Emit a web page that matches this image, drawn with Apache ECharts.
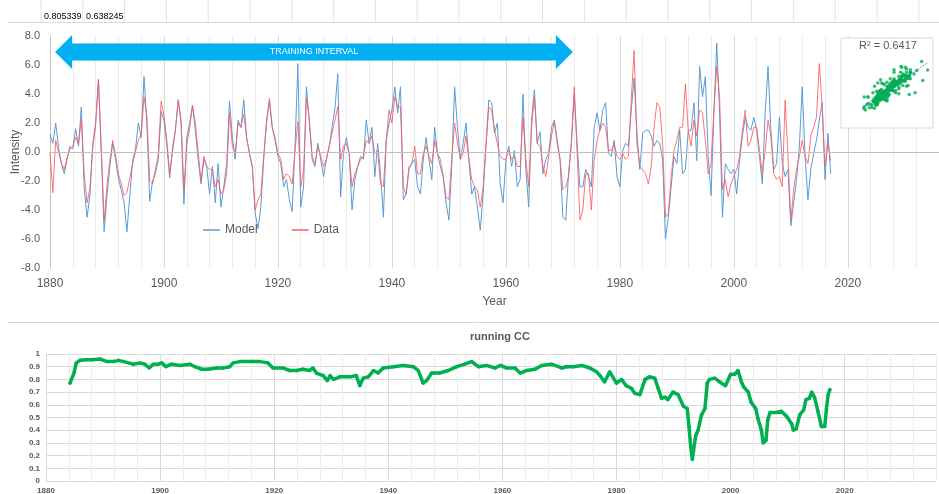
<!DOCTYPE html>
<html>
<head>
<meta charset="utf-8">
<script src="https://cdn.jsdelivr.net/npm/echarts@6/dist/echarts.min.js"></script>
<style>
  html, body { margin: 0; padding: 0; background: #fff; }
  #main { width: 939px; height: 494px; }
</style>
</head>
<body>
<div id="main"></div>
<script>
// half-year samples starting at 1880.0
const startYear = 1880;
const stepYears = 0.5;

const modelValues = [
  1.2, 0.6, 2.0, 0.3, -0.8, -1.5, -0.5, 0.4, 0.2, 1.6,
  0.4, 3.1, -2.5, -4.5, -3.0, 0.5, 2.0, 5.0, 0.0, -5.5,
  -3.0, -1.0, 0.6, -0.5, -1.8, -2.6, -3.5, -5.5, -3.0, -0.6,
  0.2, 2.0, 1.0, 5.2, 2.0, -3.4, -2.0, -1.5, -0.5, 2.8,
  2.2, 0.5, -1.8, 0.3, 1.5, 3.6, 2.0, -3.6, 1.0, 2.0,
  3.2, 1.5, -0.5, -2.2, -0.5, -1.0, -2.9, -1.0, -3.5, -0.8,
  -3.8, -2.4, -0.8, 3.5, 1.0, -0.5, 2.2, 1.7, 3.6, 1.0,
  -0.1, -1.0, -4.2, -5.3, -3.8, -0.5, 2.2, 3.5, 1.7, 0.8,
  -0.3, -0.8, -2.4, -1.9, -3.3, -4.1, 0.4, 6.1, -3.8, -2.4,
  4.5, 2.2, -0.5, -1.0, 0.6, -0.5, -1.7, -0.5, 0.4, 1.7,
  3.0, 5.4, -3.1, -0.1, 1.0, -0.1, -4.0, -1.9, -1.0, -0.3,
  -0.5, 2.2, 0.6, 1.7, -1.7, 0.6, -1.5, -4.5, 0.8, 2.0,
  2.9, 4.5, 2.7, 4.5, -3.3, -2.9, -1.0, -0.8, -0.5, -2.4,
  -2.9, -0.5, 1.0, -0.5, -1.9, 1.7, -0.1, -1.0, -1.7, -3.5,
  -4.7, -1.0, 4.5, 1.7, -0.5, 0.6, 2.0, -0.5, -2.9, -2.4,
  -3.8, -5.4, -2.9, 0.4, 3.6, 3.4, 1.3, 2.0, -2.2, -3.5,
  -0.5, 0.4, -1.0, 0.1, -2.4, -1.9, 4.0, -1.2, -3.8, 2.2,
  4.3, 0.6, 1.4, -1.5, -0.5, -0.1, 1.7, 2.2, 0.8, -0.5,
  -4.5, -4.7, -1.5, 0.6, 4.0, 0.6, -2.4, -2.4, -1.2, -1.7,
  -2.4, 1.7, 2.7, 1.5, 2.9, 3.4, -0.1, -0.3, 0.8, -1.7,
  -2.4, 0.1, 0.6, 0.4, 2.9, 5.1, 1.3, -1.2, 1.3, 1.5,
  1.5, 1.1, 0.4, 0.8, 0.6, -0.5, -6.0, -4.5, -2.4, -0.3,
  -0.8, 1.5, -1.5, -1.2, 1.5, 1.5, 3.4, -0.6, 5.9, 3.8,
  5.2, -0.3, -3.0, 2.7, 7.5, 2.7, -4.5, -0.8, -1.2, -1.5,
  -1.2, -2.9, -0.6, 1.1, 2.4, 1.7, 1.5, 2.4, 1.5, -0.3,
  -2.2, 2.7, 5.9, 1.5, -1.2, -0.8, 2.4, -0.8, -1.7, -1.2,
  -5.1, -3.5, -1.9, 0.4, 4.5, -0.3, -3.3, -1.2, -0.1, 0.8,
  2.2, 3.4, -1.9, 1.3, -1.5
];

const dataValues = [
  0.0, -2.8, 0.8, 0.0, -0.8, -1.2, -0.4, 0.2, 0.4, 1.0,
  0.6, 2.2, -1.5, -3.5, -2.5, 0.3, 1.8, 5.0, 0.2, -4.8,
  -2.3, -0.6, 0.8, -0.2, -1.5, -2.2, -3.0, -2.8, -1.8, -0.8,
  0.0, 0.8, 1.2, 3.8, 2.5, -2.0, -2.2, -1.2, -0.2, 3.5,
  2.5, 0.8, -1.5, 0.0, 1.5, 3.6, 2.2, -2.6, 0.5, 1.6,
  3.2, 2.0, 0.0, -2.0, -0.3, -1.0, -1.2, -1.2, -2.4, -1.9,
  -2.9, -2.6, -1.5, 2.7, 0.4, -0.1, 2.0, 1.7, 2.6, 1.0,
  -0.1, -1.0, -4.0, -3.3, -2.9, -0.3, 2.0, 3.7, 1.7, 1.0,
  -0.1, -0.5, -1.9, -1.5, -1.7, -2.2, 0.1, 2.1, -2.4, -1.2,
  3.8, 2.2, -0.3, -0.8, 0.4, -0.3, -1.0, -0.5, 0.4, 1.3,
  2.2, 3.1, -0.5, 0.4, 0.6, -0.1, -2.4, -1.5, -1.0, -0.5,
  -0.3, 0.8, 0.6, 1.1, -0.1, 0.1, -2.2, -2.4, 0.8, 2.9,
  2.0, 3.8, 3.1, 3.1, -2.4, -2.9, -1.2, -0.8, 0.4, -1.5,
  -1.5, -0.1, 0.4, -0.3, -0.8, 0.8, -0.1, -0.5, -1.7, -3.1,
  -3.3, -0.5, 2.0, 0.6, -0.5, -0.1, 1.1, -0.5, -1.9, -2.4,
  -2.6, -3.8, -2.4, 0.4, 3.1, 2.9, 1.5, 0.6, -0.3, -0.5,
  -0.5, 0.1, -0.5, -0.3, -1.0, -1.0, 2.4, -0.5, -2.4, 1.7,
  3.8, 0.6, 0.4, -1.0, -1.7, -0.3, 1.1, 2.1, 0.6, -0.5,
  -2.6, -2.4, -1.7, 0.8, 4.5, -0.1, -4.7, -4.0, -1.5, -1.5,
  -4.0, -0.5, 0.8, 1.5, 2.0, 1.7, 0.1, 0.1, 0.6, -0.3,
  -0.5, -0.1, -0.5, -0.3, 3.6, 7.0, 0.6, -1.0, -1.2, -1.5,
  -2.2, -1.0, 1.7, 3.4, 3.1, 0.6, -4.5, -4.2, -1.7, 0.1,
  0.8, 1.7, 1.7, 4.7, 1.5, 0.4, 2.2, 1.1, 2.9, 2.7,
  0.8, -1.5, -0.8, 2.9, 5.9, 3.8, -2.6, -1.9, -3.1, -2.2,
  -1.7, -1.2, -0.3, 1.5, 2.9, 0.4, 0.8, 1.7, 1.7, 0.1,
  -1.5, 0.1, 2.2, 1.1, -1.5, -1.9, -1.7, -2.4, 3.6, -0.3,
  -4.7, -2.6, -1.2, -0.3, 0.8, -0.3, -0.8, 1.1, 1.7, 2.4,
  6.1, 3.1, -1.0, 0.6, -0.6
];

// running correlation coefficient
const ccYears = [
  1884.2, 1884.9, 1885.3, 1886.0, 1887.0, 1888.0, 1889.5, 1890.7, 1891.8, 1892.7,
  1893.6, 1895.3, 1896.5, 1897.3, 1898.1, 1898.8, 1899.7, 1900.3, 1901.0, 1902.0,
  1903.5, 1905.2, 1906.1, 1907.3, 1908.4, 1909.9, 1911.0, 1912.2, 1912.8, 1914.0,
  1915.7, 1917.5, 1918.9, 1919.8, 1921.5, 1922.7, 1923.9, 1925.0, 1926.2, 1926.8,
  1927.4, 1928.6, 1929.3, 1929.8, 1930.4, 1931.5, 1933.3, 1934.4, 1935.0, 1935.6,
  1936.5, 1937.4, 1938.2, 1939.1, 1940.9, 1942.6, 1944.4, 1945.25, 1946.1, 1946.7,
  1947.6, 1949.0, 1950.5, 1952.0, 1953.4, 1954.6, 1955.8, 1957.2, 1958.7, 1959.7,
  1960.7, 1962.2, 1963.1, 1964.2, 1965.7, 1966.9, 1968.6, 1970.4, 1971.2, 1972.4,
  1973.9, 1975.3, 1976.5, 1977.1, 1977.9, 1978.8, 1980.0, 1980.9, 1981.7, 1982.6,
  1983.2, 1984.1, 1985.0, 1985.8, 1986.7, 1987.3, 1987.9, 1988.5, 1989.0, 1989.9,
  1990.8, 1991.7, 1992.4, 1992.7, 1993.0, 1993.3, 1993.5, 1993.9, 1994.3, 1994.9,
  1995.5, 1995.9, 1996.3, 1997.2, 1998.1, 1999.1, 2000.0, 2000.7, 2001.3, 2001.9,
  2002.3, 2003.1, 2003.6, 2004.4, 2004.8, 2005.4, 2005.7, 2006.2, 2006.5, 2006.9,
  2008.0, 2008.9, 2009.8, 2010.7, 2011.0, 2011.5, 2012.1, 2012.8, 2013.2, 2013.8,
  2014.2, 2014.7, 2015.3, 2015.9, 2016.5, 2016.8, 2017.1, 2017.4
];
const ccValues = [
  0.77, 0.85, 0.93, 0.95, 0.955, 0.955, 0.96, 0.94, 0.94, 0.95,
  0.94, 0.92, 0.93, 0.92, 0.89, 0.92, 0.92, 0.93, 0.90, 0.92,
  0.91, 0.92, 0.90, 0.88, 0.88, 0.89, 0.89, 0.90, 0.93, 0.94,
  0.94, 0.94, 0.93, 0.89, 0.89, 0.87, 0.87, 0.88, 0.87, 0.89,
  0.85, 0.83, 0.79, 0.83, 0.80, 0.82, 0.82, 0.83, 0.75, 0.81,
  0.82, 0.87, 0.85, 0.89, 0.90, 0.91, 0.90, 0.87, 0.77, 0.79,
  0.85, 0.85, 0.87, 0.90, 0.92, 0.94, 0.90, 0.91, 0.89, 0.91,
  0.89, 0.89, 0.85, 0.87, 0.88, 0.91, 0.92, 0.89, 0.90, 0.90,
  0.91, 0.89, 0.86, 0.83, 0.78, 0.86, 0.77, 0.80, 0.75, 0.73,
  0.69, 0.68, 0.80, 0.82, 0.81, 0.73, 0.65, 0.66, 0.64, 0.70,
  0.68, 0.59, 0.57, 0.43, 0.27, 0.17, 0.24, 0.36, 0.40, 0.52,
  0.57, 0.77, 0.80, 0.81, 0.78, 0.75, 0.84, 0.84, 0.87, 0.78,
  0.74, 0.70, 0.62, 0.57, 0.49, 0.40, 0.30, 0.32, 0.48, 0.54,
  0.54, 0.55, 0.51, 0.45, 0.40, 0.41, 0.52, 0.56, 0.64, 0.65,
  0.70, 0.66, 0.55, 0.43, 0.43, 0.57, 0.68, 0.72
];

const stripValues = ['0.805339', '0.638245'];
const r2Label = 'R\u00B2 = 0.6417';
const trainingLabel = 'TRAINING INTERVAL';
const trainingStart = 1880.9;
const trainingEnd = 1971.75;

const years = modelValues.map((_, i) => startYear + i * stepYears);

const grey = '#595959';
const blue = '#5B9BD5';
const red = '#FF5A5F';
const green = '#00B050';

// linear fit for the scatter inset
const mean = a => a.reduce((s, v) => s + v, 0) / a.length;
const mx = mean(dataValues), my = mean(modelValues);
let sxy = 0, sxx = 0;
dataValues.forEach((x, i) => { sxy += (x - mx) * (modelValues[i] - my); sxx += (x - mx) * (x - mx); });
const slope = sxy / sxx;
const icpt = my - slope * mx;
const xLo = Math.min(...dataValues), xHi = Math.max(...dataValues);

const chart = echarts.init(document.getElementById('main'));

const yearLabel = v => (v % 20 === 0 ? String(v) : '');
const gridColors = ['#D9D9D9', '#EDEDED', '#EDEDED', '#EDEDED', '#EDEDED'];

chart.setOption({
  animation: false,
  textStyle: { fontFamily: 'Liberation Sans' },
  grid: [
    { left: 50, top: 36, right: 0, height: 232, outerBoundsMode: 'none' },
    { left: 841, top: 38, width: 92, height: 90, show: true, backgroundColor: '#fff', borderColor: '#D9D9D9', z: 1, outerBoundsMode: 'none' },
    { left: 46, top: 354, right: 3, height: 127, outerBoundsMode: 'none' }
  ],
  legend: {
    data: ['Model', 'Data'],
    left: 198, top: 219,
    icon: 'rect', itemWidth: 17, itemHeight: 1.5, itemGap: 34,
    textStyle: { color: grey, fontSize: 12 }
  },
  xAxis: [
    {
      type: 'value', gridIndex: 0, min: 1880, max: 2036, interval: 4,
      axisLine: { show: false }, axisTick: { show: false },
      axisLabel: { formatter: yearLabel, color: grey, fontSize: 12, margin: 10 },
      splitLine: { show: true, lineStyle: { color: gridColors } },
      name: 'Year', nameLocation: 'middle', nameGap: 28, nameMoveOverlap: false,
      nameTextStyle: { color: grey, fontSize: 12 }
    },
    { type: 'value', gridIndex: 1, min: -9, max: 8, show: false },
    {
      type: 'value', gridIndex: 2, min: 1880, max: 2036, interval: 4,
      axisLine: { show: true, lineStyle: { color: '#D9D9D9' } }, axisTick: { show: false },
      axisLabel: { formatter: yearLabel, color: grey, fontSize: 8, fontWeight: 'bold', margin: 6 },
      splitLine: { show: true, lineStyle: { color: gridColors } }
    }
  ],
  yAxis: [
    {
      type: 'value', gridIndex: 0, min: -8, max: 8, interval: 2,
      axisLine: { show: true, lineStyle: { color: '#BFBFBF' } }, axisTick: { show: false },
      splitLine: { show: false },
      axisLabel: { formatter: v => v.toFixed(1), color: grey, fontSize: 11, margin: 10 },
      name: 'Intensity', nameLocation: 'middle', nameGap: 28, nameRotate: 90, nameMoveOverlap: false,
      nameTextStyle: { color: grey, fontSize: 12 }
    },
    { type: 'value', gridIndex: 1, min: -11, max: 14, show: false },
    {
      type: 'value', gridIndex: 2, min: 0, max: 1, interval: 0.1,
      axisLine: { show: false }, axisTick: { show: false },
      splitLine: { show: true, lineStyle: { color: '#D9D9D9' } },
      axisLabel: { formatter: v => String(+v.toFixed(1)), color: grey, fontSize: 8, fontWeight: 'bold', margin: 6 }
    }
  ],
  series: [
    {
      name: 'Model', type: 'line', xAxisIndex: 0, yAxisIndex: 0,
      data: years.map((y, i) => [y, modelValues[i]]),
      showSymbol: false, color: blue, lineStyle: { width: 1, color: blue },
      markLine: {
        silent: true, symbol: 'none', label: { show: false },
        lineStyle: { color: '#BFBFBF', type: 'solid', width: 1 },
        data: [{ yAxis: 0 }]
      }
    },
    {
      name: 'Data', type: 'line', xAxisIndex: 0, yAxisIndex: 0,
      data: years.map((y, i) => [y, dataValues[i]]),
      showSymbol: false, color: red, lineStyle: { width: 1, color: red, opacity: 0.85 }
    },
    {
      type: 'scatter', xAxisIndex: 1, yAxisIndex: 1,
      data: dataValues.map((d, i) => [d, modelValues[i]]),
      symbolSize: 3.5, itemStyle: { color: green }
    },
    {
      type: 'line', xAxisIndex: 1, yAxisIndex: 1, showSymbol: false, z: 3,
      data: [[xLo, icpt + slope * xLo], [xHi, icpt + slope * xHi]],
      lineStyle: { color: '#4472C4', width: 1, type: 'dotted' }
    },
    {
      type: 'line', xAxisIndex: 2, yAxisIndex: 2,
      data: ccYears.map((y, i) => [y, ccValues[i]]),
      color: green, lineStyle: { width: 3.5, color: green },
      symbol: 'circle', symbolSize: 3.5, showSymbol: true,
      itemStyle: { color: green }
    }
  ]
});

// annotation graphics
const arrowLevel = 6.9;
const pL = chart.convertToPixel({ gridIndex: 0 }, [trainingStart, arrowLevel]);
const pR = chart.convertToPixel({ gridIndex: 0 }, [trainingEnd, arrowLevel]);
const head = 17, body = 8.5, yc = pL[1];
const arrowPts = [
  [pL[0], yc], [pL[0] + head, yc - head], [pL[0] + head, yc - body],
  [pR[0] - head, yc - body], [pR[0] - head, yc - head], [pR[0], yc],
  [pR[0] - head, yc + head], [pR[0] - head, yc + body],
  [pL[0] + head, yc + body], [pL[0] + head, yc + head]
];

const graphics = [];
for (let k = 0; k < 23; k++) {
  const x = 41 + k * 41.8;
  graphics.push({ type: 'line', shape: { x1: x, y1: 0, x2: x, y2: 22 }, style: { stroke: '#E3E3E3', lineWidth: 1 }, silent: true });
}
graphics.push({ type: 'line', shape: { x1: 8, y1: 22.5, x2: 939, y2: 22.5 }, style: { stroke: '#DADADA', lineWidth: 1 }, silent: true });
graphics.push({ type: 'line', shape: { x1: 8, y1: 322.5, x2: 939, y2: 322.5 }, style: { stroke: '#D9D9D9', lineWidth: 1 }, silent: true });
stripValues.forEach((t, i) => {
  graphics.push({ type: 'text', x: 44 + i * 42, y: 17, style: { text: t, fill: '#000', fontSize: 9, fontFamily: 'Liberation Sans', verticalAlign: 'middle' }, silent: true });
});
graphics.push({ type: 'polygon', shape: { points: arrowPts }, style: { fill: '#00B0F0' }, z: 10, silent: true });
graphics.push({
  type: 'text', x: (pL[0] + pR[0]) / 2, y: yc, z: 11,
  style: { text: trainingLabel, fill: '#fff', fontSize: 9, fontFamily: 'Liberation Sans', align: 'center', verticalAlign: 'middle' },
  silent: true
});
graphics.push({
  type: 'text', x: 888, y: 46, z: 11,
  style: { text: r2Label, fill: grey, fontSize: 11, fontFamily: 'Liberation Sans', align: 'center', verticalAlign: 'middle' },
  silent: true
});
graphics.push({
  type: 'text', x: 500, y: 337, z: 11,
  style: { text: 'running CC', fill: grey, fontSize: 11, fontWeight: 'bold', fontFamily: 'Liberation Sans', align: 'center', verticalAlign: 'middle' },
  silent: true
});

chart.setOption({ graphic: graphics });
</script>
</body>
</html>
